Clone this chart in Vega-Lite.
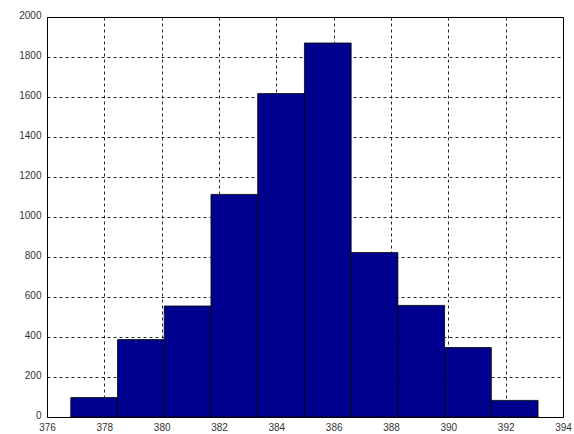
{
  "$schema": "https://vega.github.io/schema/vega-lite/v6.json",
  "width": 516,
  "height": 400,
  "autosize": {"type": "none"},
  "padding": {"left": 47, "top": 17, "right": 11, "bottom": 17},
  "background": "white",
  "config": {
    "view": {"stroke": "black", "strokeWidth": 1},
    "axis": {
      "labelFont": "Liberation Sans",
      "labelFontSize": 10,
      "labelColor": "#333333",
      "domainColor": "black",
      "ticks": false,
      "gridColor": "black",
      "gridDash": [3, 3],
      "gridOpacity": 0.85,
      "gridWidth": 1,
      "title": null,
      "format": "d"
    }
  },
  "data": {
    "values": [
      {"bin_start": 376.83, "bin_end": 378.46, "count": 97},
      {"bin_start": 378.46, "bin_end": 380.09, "count": 387},
      {"bin_start": 380.09, "bin_end": 381.72, "count": 555},
      {"bin_start": 381.72, "bin_end": 383.35, "count": 1113},
      {"bin_start": 383.35, "bin_end": 384.98, "count": 1617},
      {"bin_start": 384.98, "bin_end": 386.61, "count": 1870},
      {"bin_start": 386.61, "bin_end": 388.24, "count": 822},
      {"bin_start": 388.24, "bin_end": 389.87, "count": 558},
      {"bin_start": 389.87, "bin_end": 391.50, "count": 347},
      {"bin_start": 391.50, "bin_end": 393.13, "count": 83}
    ]
  },
  "mark": {"type": "rect", "fill": "#00008F", "stroke": "black", "strokeWidth": 0.8},
  "encoding": {
    "x": {
      "field": "bin_start",
      "type": "quantitative",
      "scale": {"domain": [376, 394], "nice": false, "zero": false},
      "axis": {"values": [376, 378, 380, 382, 384, 386, 388, 390, 392, 394], "labelPadding": 5, "labelFlush": false, "format": "d"}
    },
    "x2": {"field": "bin_end"},
    "y": {
      "field": "count",
      "type": "quantitative",
      "scale": {"domain": [0, 2000], "nice": false},
      "axis": {"values": [0, 200, 400, 600, 800, 1000, 1200, 1400, 1600, 1800, 2000], "labelPadding": 6, "labelFlush": false, "labelOffset": -2, "format": "d"}
    },
    "y2": {"datum": 0}
  }
}
